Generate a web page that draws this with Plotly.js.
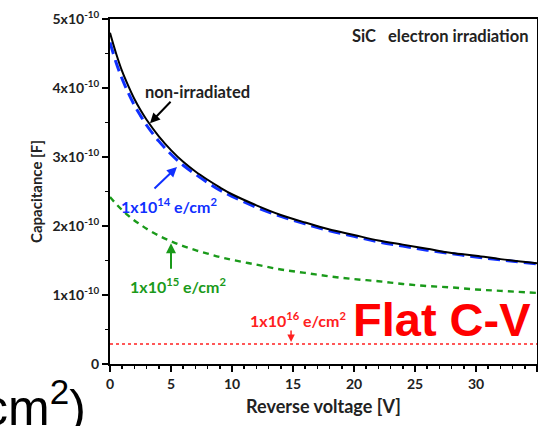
<!DOCTYPE html>
<html>
<head>
<meta charset="utf-8">
<script src="https://cdn.plot.ly/plotly-3.0.1.min.js"></script>
<style>html,body{margin:0;padding:0;background:#fff;}#chart{width:538px;height:426px;}</style>
</head>
<body>
<div id="chart"></div>
<script>
// Reverse voltage [V]
var voltage = [0, 0.5, 1, 1.5, 2, 2.5, 3, 4, 5, 6, 7, 8, 9, 10, 12, 14, 16, 18, 20, 22, 24, 26, 28, 30, 32, 35];
// Capacitance in units of 1e-10 F
var capNonIrradiated = [4.80, 4.50, 4.24, 4.03, 3.84, 3.68, 3.54, 3.30, 3.10, 2.93, 2.79, 2.67, 2.56, 2.46, 2.30, 2.16, 2.05, 1.95, 1.87, 1.79, 1.73, 1.67, 1.61, 1.57, 1.52, 1.46];
var cap1e14 = [4.66, 4.37, 4.13, 3.93, 3.75, 3.60, 3.46, 3.23, 3.04, 2.88, 2.75, 2.63, 2.52, 2.43, 2.27, 2.14, 2.03, 1.93, 1.85, 1.77, 1.71, 1.65, 1.60, 1.55, 1.51, 1.45];
var cap1e15 = [2.42, 2.32, 2.23, 2.15, 2.08, 2.02, 1.96, 1.86, 1.78, 1.71, 1.65, 1.60, 1.55, 1.51, 1.44, 1.37, 1.32, 1.27, 1.23, 1.20, 1.16, 1.13, 1.11, 1.08, 1.06, 1.03];
var voltage1e16 = [0, 35];
var cap1e16 = [0.29, 0.29];

var yTickVals = [0, 1, 2, 3, 4, 5];
var yTickText = ['0', '1x10<sup>-10</sup>', '2x10<sup>-10</sup>', '3x10<sup>-10</sup>', '4x10<sup>-10</sup>', '5x10<sup>-10</sup>'];
var xTickVals = [0, 5, 10, 15, 20, 25, 30, 35];

var FONT = 'Lato, "Open Sans", sans-serif';

var traces = [
  {x: voltage1e16, y: cap1e16, mode: 'lines', line: {color: '#ff2020', width: 1.6, dash: 'dot'}},
  {x: voltage, y: cap1e15, mode: 'lines', line: {color: '#1a9a1a', width: 2.4, dash: '6px,5px', shape: 'spline'}},
  {x: voltage, y: cap1e14, mode: 'lines', line: {color: '#1030ff', width: 3, dash: '12px,6px', shape: 'spline'}},
  {x: voltage, y: capNonIrradiated, mode: 'lines', line: {color: '#000000', width: 2, shape: 'spline'}}
];

var layout = {
  width: 538, height: 426,
  margin: {l: 110, r: 1, t: 19, b: 62},
  paper_bgcolor: '#fff', plot_bgcolor: '#fff',
  showlegend: false,
  font: {family: FONT, color: '#222'},
  xaxis: {
    range: [0, 35], showgrid: false, zeroline: false,
    showline: true, linecolor: '#000', linewidth: 2, mirror: true,
    ticks: 'outside', ticklen: 6, tickwidth: 2, tickcolor: '#000',
    tickmode: 'array', tickvals: xTickVals,
    tickfont: {family: FONT, size: 14, weight: 'bold', color: '#222'},
    minor: {tickmode: 'linear', tick0: 0, dtick: 1, ticks: 'outside', ticklen: 3, tickwidth: 1.5, tickcolor: '#000'},
    title: {text: 'Reverse voltage [V]', font: {family: FONT, size: 18, weight: 'bold', color: '#222'}, standoff: 10}
  },
  yaxis: {
    range: [0, 5], showgrid: false, zeroline: false,
    showline: true, linecolor: '#000', linewidth: 2, mirror: true,
    ticks: 'outside', ticklen: 6, tickwidth: 2, tickcolor: '#000',
    tickmode: 'array', tickvals: yTickVals, ticktext: yTickText,
    tickfont: {family: FONT, size: 14, weight: 'bold', color: '#222'},
    minor: {tickmode: 'linear', tick0: 0, dtick: 0.5, ticks: 'outside', ticklen: 3, tickwidth: 1.5, tickcolor: '#000'},
    title: {text: 'Capacitance [F]', font: {family: FONT, size: 15, weight: 'bold', color: '#222'}, standoff: 6}
  },
  annotations: [
    {xref: 'paper', yref: 'paper', x: 0.985, y: 0.985, xanchor: 'right', yanchor: 'top', showarrow: false,
     text: 'SiC   electron irradiation', font: {family: FONT, size: 16.5, weight: 'bold', color: '#222'}},
    {x: 7.2, y: 3.94, showarrow: false, text: 'non-irradiated', font: {family: FONT, size: 16.5, weight: 'bold', color: '#222'}},
    {x: 3.28, y: 3.49, ax: 22, ay: -23, showarrow: true, text: '', arrowhead: 2, arrowsize: 1, arrowwidth: 2, arrowcolor: '#000'},
    {x: 4.84, y: 2.30, showarrow: false, text: '1x10<sup>14</sup> e/cm<sup>2</sup>', font: {family: FONT, size: 16, weight: 'bold', color: '#1030ff'}},
    {x: 5.49, y: 2.855, ax: -24, ay: 23, showarrow: true, text: '', arrowhead: 2, arrowsize: 1, arrowwidth: 2, arrowcolor: '#1030ff'},
    {x: 5.57, y: 1.14, showarrow: false, text: '1x10<sup>15</sup> e/cm<sup>2</sup>', font: {family: FONT, size: 16, weight: 'bold', color: '#1a9a1a'}},
    {x: 5.0, y: 1.75, ax: 0, ay: 27, showarrow: true, text: '', arrowhead: 2, arrowsize: 1, arrowwidth: 2, arrowcolor: '#1a9a1a'},
    {x: 15.4, y: 0.64, showarrow: false, text: '1x10<sup>16</sup> e/cm<sup>2</sup>', font: {family: FONT, size: 16, weight: 'bold', color: '#ff2020'}},
    {x: 14.84, y: 0.32, ax: 0, ay: -13, showarrow: true, text: '', arrowhead: 2, arrowsize: 1, arrowwidth: 1.5, arrowcolor: '#ff2020'},
    {xref: 'paper', yref: 'paper', x: 0.777, y: 0.13, xanchor: 'center', yanchor: 'middle', showarrow: false,
     text: 'Flat C-V', font: {family: 'Liberation Sans, Arial, sans-serif', size: 47, weight: 'bold', color: '#ff0000'}},
    {xref: 'paper', yref: 'paper', x: -0.052, y: -0.115, xanchor: 'right', yanchor: 'middle', showarrow: false,
     text: 'cm<sup>2</sup>)', font: {family: 'Liberation Sans, Arial, sans-serif', size: 50, color: '#000'}}
  ]
};

Plotly.newPlot('chart', traces, layout, {displayModeBar: false, staticPlot: true});
</script>
</body>
</html>
